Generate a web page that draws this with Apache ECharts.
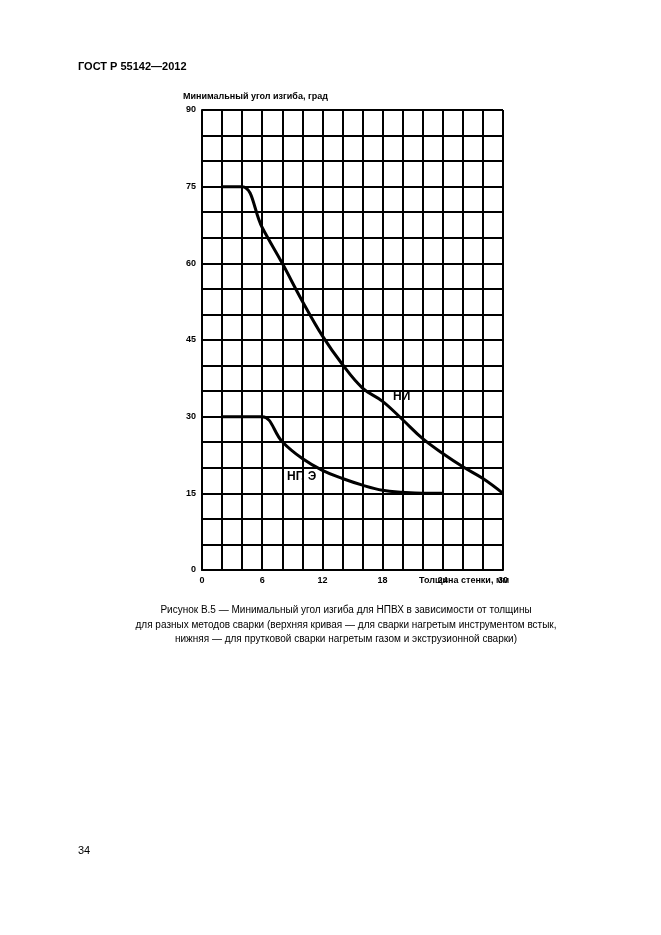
<!DOCTYPE html>
<html><head><meta charset="utf-8">
<script src="https://cdn.jsdelivr.net/npm/echarts@6/dist/echarts.min.js"></script>
<style>html,body{margin:0;padding:0;background:#fff}#c{width:661px;height:935px}</style>
</head><body><div id="c"></div>
<script>
const xNI = [2, 4, 6, 8, 10, 12, 14, 16, 18, 20, 22, 24, 26, 28, 30];
const yNI = [75, 75, 67, 60, 52.6, 45.8, 40.2, 35.6, 33, 29.4, 25.7, 22.8, 20.2, 17.9, 15];
const xNG = [2, 4, 6, 8, 10, 12, 14, 16, 18, 20, 22, 24];
const yNG = [30, 30, 30, 25.1, 21.8, 19.5, 17.9, 16.6, 15.6, 15.2, 15, 15];
const xTicks = [0, 6, 12, 18, 24, 30];
const yTicks = [0, 15, 30, 45, 60, 75, 90];

const ch = echarts.init(document.getElementById('c'));
const lineStyle = {color: '#000', width: 3};
ch.setOption({
  animation: false,
  backgroundColor: '#fff',
  textStyle: {fontFamily: 'Liberation Sans'},
  graphic: [
    {type:'text', left:78, top:61, style:{text:'ГОСТ Р 55142—2012', font:'bold 11px "Liberation Sans"', fill:'#000'}},
    {type:'text', left:183, top:92, style:{text:'Минимальный угол изгиба, град', font:'bold 9px "Liberation Sans"', fill:'#000'}},
    {type:'text', left:419, top:576, style:{text:'Толщина стенки, мм', font:'bold 9px "Liberation Sans"', fill:'#000'}},
    {type:'text', left:393, top:391, style:{text:'НИ', font:'bold 12px "Liberation Sans"', fill:'#000'}},
    {type:'text', left:287, top:471, style:{text:'НГ, Э', font:'bold 12px "Liberation Sans"', fill:'#000'}},
    {type:'text', x:346, y:603, style:{text:'Рисунок В.5 — Минимальный угол изгиба для НПВХ в зависимости от толщины\nдля разных методов сварки (верхняя кривая — для сварки нагретым инструментом встык,\nнижняя — для прутковой сварки нагретым газом и экструзионной сварки)', font:'10px "Liberation Sans"', fill:'#000', align:'center', lineHeight:14.5}},
    {type:'text', left:78, top:845, style:{text:'34', font:'11px "Liberation Sans"', fill:'#000'}}
  ],
  grid: {left:202, right:158, top:110, bottom:365},
  xAxis: {type:'value', min:0, max:30, interval:2,
    axisLine:{lineStyle:{color:'#000', width:2}}, axisTick:{show:false},
    splitLine:{lineStyle:{color:'#000', width:2}},
    axisLabel:{color:'#000', fontWeight:'bold', fontSize:9, margin:6,
      formatter: v => xTicks.includes(v) ? String(v) : ''}},
  yAxis: {type:'value', min:0, max:90, interval:5,
    axisLine:{lineStyle:{color:'#000', width:2}}, axisTick:{show:false},
    splitLine:{lineStyle:{color:'#000', width:2}},
    axisLabel:{color:'#000', fontWeight:'bold', fontSize:9, margin:6,
      formatter: v => yTicks.includes(v) ? String(v) : ''}},
  series: [
    {type:'line', data: xNI.map((x,i)=>[x,yNI[i]]), smooth:0.4, symbol:'none', lineStyle},
    {type:'line', data: xNG.map((x,i)=>[x,yNG[i]]), smooth:0.4, symbol:'none', lineStyle}
  ]
});
</script></body></html>
